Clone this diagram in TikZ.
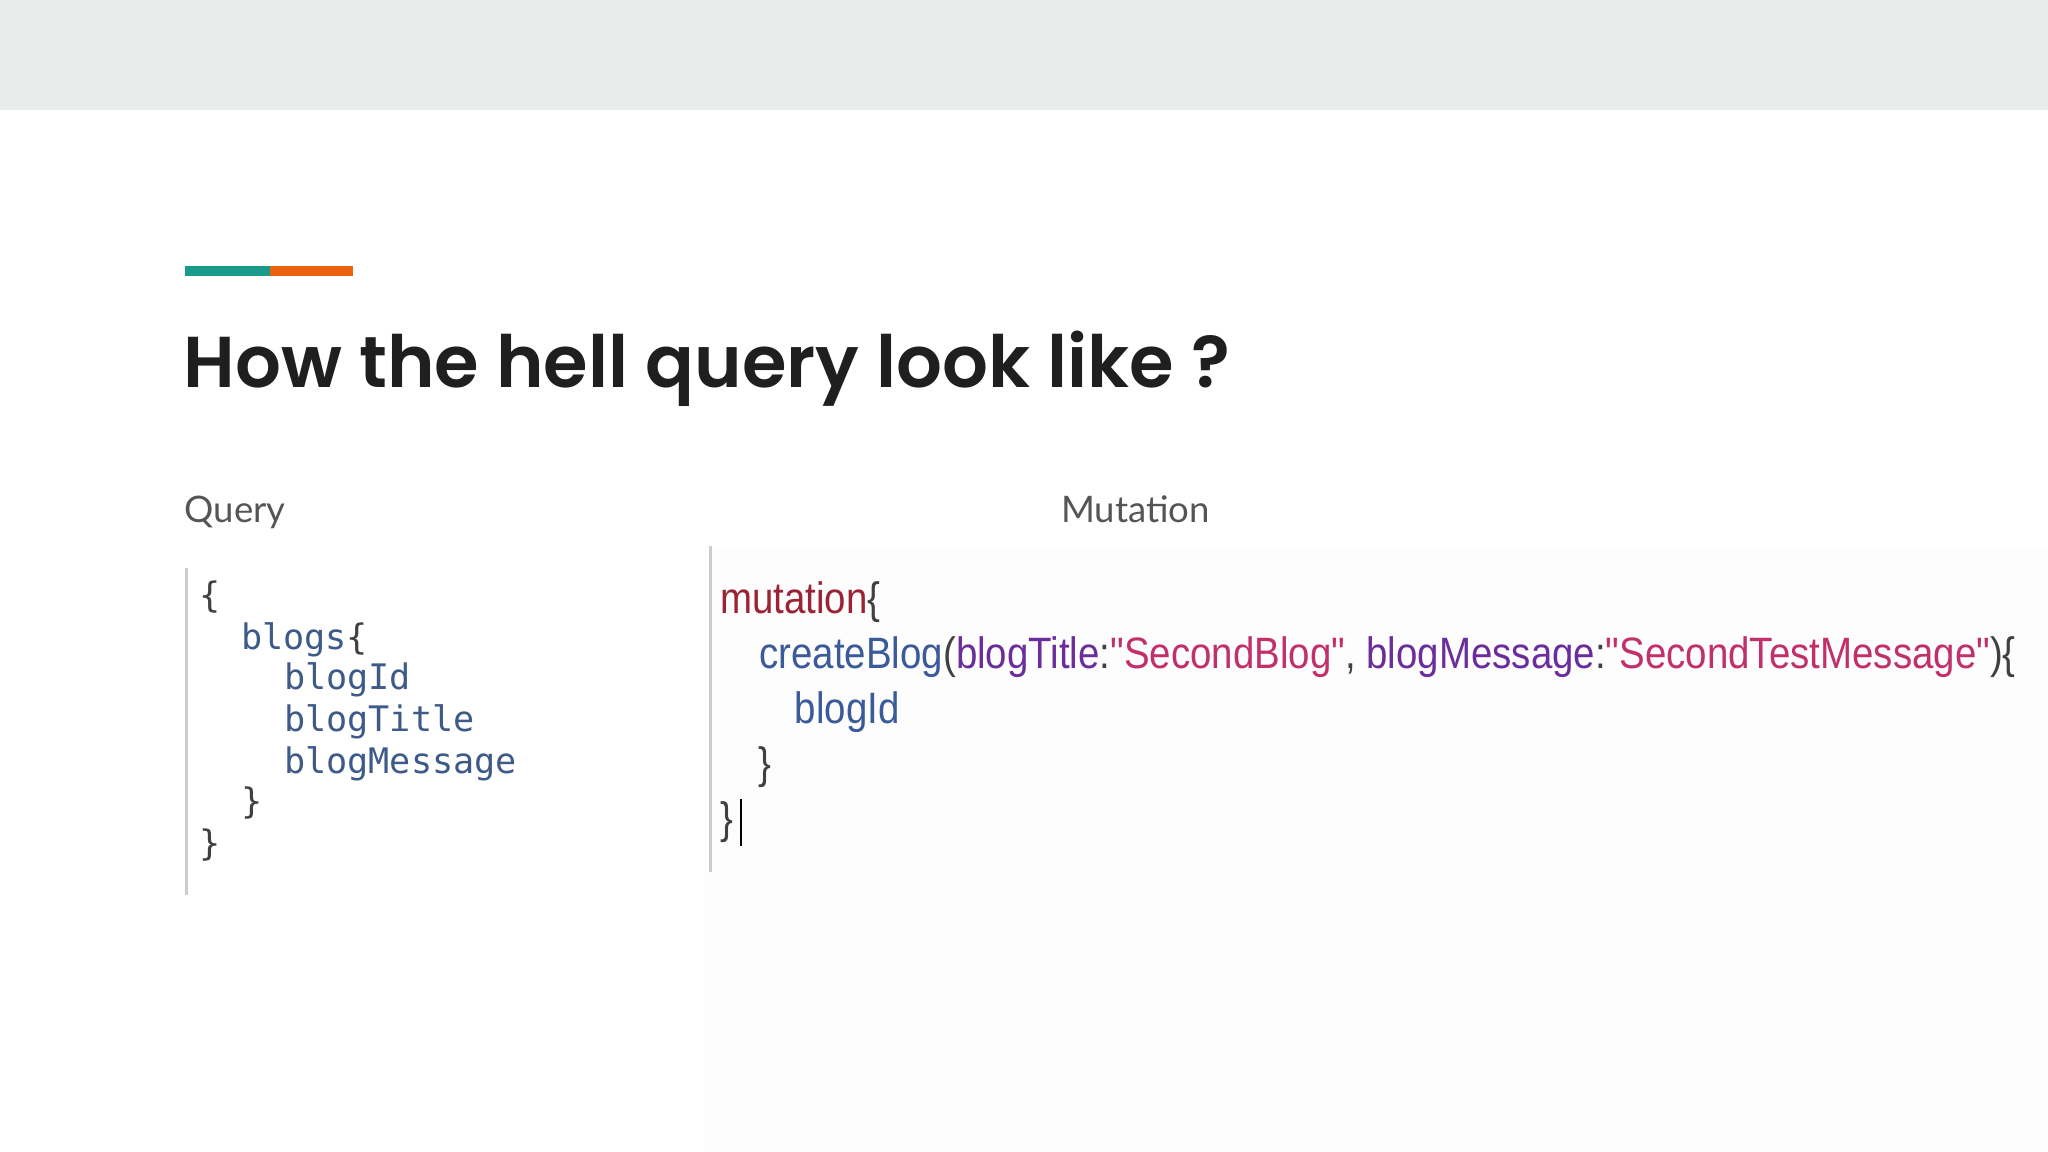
\documentclass[tikz,border=0pt]{standalone}
\usepackage{fontspec}
\setmainfont{Lato}
\newfontfamily\titlefont{Poppins}[UprightFont=* SemiBold]
\newfontfamily\codefont{DejaVu Sans Mono}
\newfontfamily\gqlfont{Liberation Sans}
\definecolor{band}{HTML}{E8ECEB}
\definecolor{teal}{HTML}{1A9A8A}
\definecolor{orng}{HTML}{E8620F}
\definecolor{qblue}{HTML}{3D5A88}
\definecolor{mred}{HTML}{9B2335}
\definecolor{mblue}{HTML}{3B5A9A}
\definecolor{mpurp}{HTML}{6B2D9C}
\definecolor{mpink}{HTML}{C2306B}
\definecolor{lbl}{HTML}{555555}
\tikzset{
 qcode/.style={anchor=base west,inner sep=0,font=\codefont\fontsize{10}{12}\selectfont,text=qblue},
 mcode/.style={anchor=base west,inner sep=0,font=\gqlfont\fontsize{12.5}{14}\selectfont,xscale=0.875,transform shape},
 lab/.style={anchor=base west,inner sep=0,font=\fontsize{10.4}{12}\selectfont,text=lbl}
}
\begin{document}
\begin{tikzpicture}[x=0.01306cm,y=-0.01306cm]
\useasboundingbox (0,0) rectangle (1568,882);
\fill[band] (0,0) rectangle (1568,84);
\fill[white!97!gray!40] (540,418) rectangle (1568,882);
\fill[teal] (142,204) rectangle (207,211);
\fill[orng] (207,204) rectangle (270,211);
\node[anchor=base west,inner sep=0,font=\titlefont\fontsize{20.5}{24}\selectfont,text=black!88] (title) at (140,297) {How the hell query look like ?};
\node[lab] (ql) at (141,400) {Query};
\node[lab] (ml) at (812,400) {Mutation};
\draw[black!20,line width=0.8pt] (143,435) -- (143,685);
\draw[black!20,line width=0.8pt] (544,418) -- (544,668);
\node[qcode,text=black!75] (q1) at (152,465) {\{};
\node[qcode] (q2) at (184,497) {blogs\textcolor{black!75}{\{}};
\node[qcode] (q3) at (217,528) {blogId};
\node[qcode] (q4) at (217,560) {blogTitle};
\node[qcode] (q5) at (217,592) {blogMessage};
\node[qcode,text=black!75] (q6) at (184,623) {\}};
\node[qcode,text=black!75] (q7) at (152,655) {\}};
\node[mcode,text=mred] (m1) at (551,470) {mutation\textcolor{black!75}{\{}};
\node[mcode,text=mblue] (m2) at (581,512) {createBlog\textcolor{black!75}{(}\textcolor{mpurp}{blogTitle}\textcolor{black!75}{:}\textcolor{mpink}{"SecondBlog"}\textcolor{black!75}{, }\textcolor{mpurp}{blogMessage}\textcolor{black!75}{:}\textcolor{mpink}{"SecondTestMessage"}\textcolor{black!75}{)\{}};
\node[mcode,text=mblue] (m3) at (608,554) {blogId};
\node[mcode,text=black!75] (m4) at (580,596) {\}};
\node[mcode,text=black!75] (m5) at (551,638) {\}};
\draw[black,line width=0.6pt] (567,612) -- (567,648);
\end{tikzpicture}
\end{document}
